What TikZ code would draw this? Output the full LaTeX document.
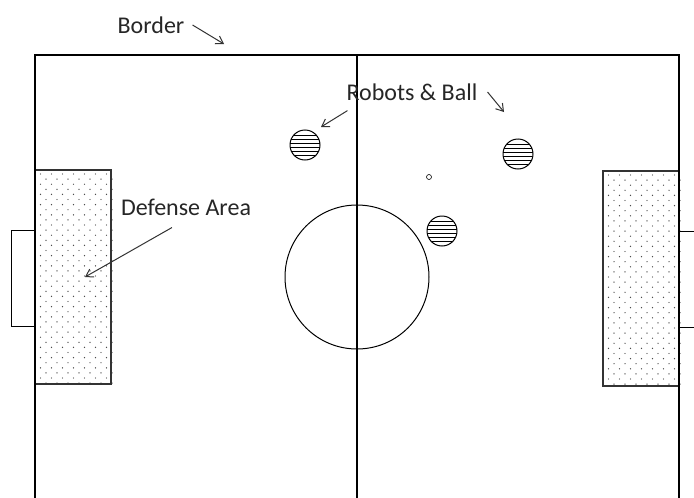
\documentclass[tikz,border=0pt]{standalone}
\usepackage{fontspec}
\setmainfont{Carlito}
\usetikzlibrary{arrows.meta,positioning,calc}

\begin{document}
\begin{tikzpicture}[
    x=1pt, y=-1pt,
    fieldline/.style={draw=black, line width=1.1pt},
    defarea/.style={draw=black!80, line width=1.1pt},
    dotfill/.style={fill=black!70},
    robot/.style={circle, draw=black, line width=1pt, minimum size=30pt, inner sep=0pt,
        path picture={
            \foreach \d in {-10,-6,-2,2,6,10}
                \draw[line width=0.9pt] ([yshift=\d pt]path picture bounding box.west) -- ([yshift=\d pt]path picture bounding box.east);
        }},
    ballnode/.style={circle, draw=black, line width=0.6pt, minimum size=5pt, inner sep=0pt},
    label/.style={font=\fontsize{24}{28}\selectfont, text=black!85, inner sep=2pt},
    callout/.style={-{Straight Barb[length=7pt,width=9pt]}, line width=1pt, draw=black!80}
]
    \clip (0,0) rectangle (694,498);
    \fill[white] (0,0) rectangle (694,498);

    % defense areas, dotted
    \foreach \xa/\ya in {35/170, 603/171}{
        \foreach \j in {0,...,41}{
            \pgfmathsetmacro\off{mod(\j,2)*5.5}
            \foreach \i in {0,...,6}
                \fill[dotfill] (\xa+5.5+\off+\i*11, \ya+4+\j*5.1) circle (0.7);
        }
    }
    \draw[defarea] (35,170) rectangle (111,384);
    \draw[defarea] (603,171) rectangle (679,386);

    % field, goals, centre
    \draw[fieldline] (35,520) -- (35,55) -- (679,55) -- (679,520);
    \draw[fieldline] (357,55) -- (357,520);
    \draw[fieldline, line width=0.9pt] (35,230) -- (11,230) -- (11,326) -- (35,326);
    \draw[fieldline, line width=0.9pt] (679,231) -- (700,231);
    \draw[fieldline, line width=0.9pt] (679,327) -- (700,327);
    \node[circle, draw=black, line width=1pt, minimum size=144pt, inner sep=0pt] (centre) at (357,277) {};

    % robots and ball
    \node[robot] (r1) at (305,145) {};
    \node[robot] (r2) at (518,154) {};
    \node[robot] (r3) at (442,231) {};
    \node[ballnode] (ball) at (429,177) {};

    % labels
    \node[label] (border) at (151,25) {Border};
    \node[label] (robots) at (412,92) {Robots \& Ball};
    \node[label] (defense) at (186,207) {Defense Area};

    \coordinate (borderTip) at (224,44);
    \coordinate (robotsTipR) at (504,112);
    \coordinate (robotsTipL) at (321,127);
    \coordinate (defenseTip) at (85,277);

    \draw[callout] ([xshift=6pt]border.east) -- (borderTip);
    \draw[callout] ([xshift=8pt]robots.east) -- (robotsTipR);
    \draw[callout] ([xshift=3pt,yshift=-8pt]robots.south west) -- (robotsTipL);
    \draw[callout] ([xshift=-14pt,yshift=-10pt]defense.south) -- (defenseTip);
\end{tikzpicture}
\end{document}
